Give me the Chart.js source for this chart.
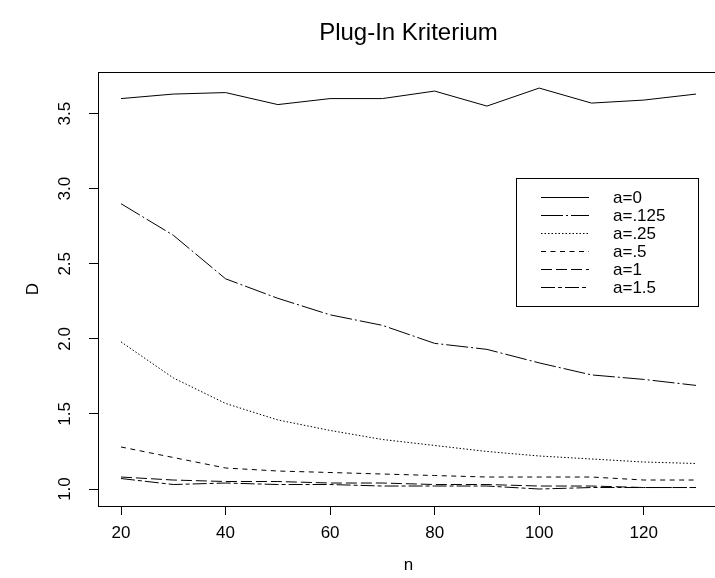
<!DOCTYPE html>
<html>
<head>
<meta charset="utf-8">
<script src="https://cdn.jsdelivr.net/npm/chart.js@4.4.1/dist/chart.umd.min.js"></script>
<style>
  html, body { margin: 0; padding: 0; background: #fff; overflow: hidden; }
  #wrap { position: relative; width: 725px; height: 578px; }
</style>
</head>
<body>
<div id="wrap"><canvas id="c"></canvas></div>
<script>
// ===== Plug-In Kriterium: D vs n for several a =====
const nValues = [20, 30, 40, 50, 60, 70, 80, 90, 100, 110, 120, 130];
const xTicks = [20, 40, 60, 80, 100, 120];
const yTicks = [1.0, 1.5, 2.0, 2.5, 3.0, 3.5];
const seriesNames = ['a=0', 'a=.125', 'a=.25', 'a=.5', 'a=1', 'a=1.5'];

const dA0    = [3.60, 3.63, 3.64, 3.56, 3.60, 3.60, 3.65, 3.55, 3.67, 3.57, 3.59, 3.63];
const dA0125 = [2.90, 2.69, 2.40, 2.27, 2.16, 2.09, 1.97, 1.93, 1.84, 1.76, 1.73, 1.69];
const dA025  = [1.98, 1.74, 1.57, 1.46, 1.39, 1.33, 1.29, 1.25, 1.22, 1.20, 1.18, 1.17];
const dA05   = [1.28, 1.21, 1.14, 1.12, 1.11, 1.10, 1.09, 1.08, 1.08, 1.08, 1.06, 1.06];
const dA1    = [1.08, 1.06, 1.05, 1.05, 1.04, 1.04, 1.03, 1.03, 1.02, 1.02, 1.01, 1.01];
const dA15   = [1.07, 1.03, 1.04, 1.03, 1.03, 1.02, 1.02, 1.02, 1.00, 1.01, 1.01, 1.01];

// R line types: solid, dotdash, dotted, dashed, longdash, twodash
const dashes = [[], [22, 3, 2, 3], [1.5, 2], [5, 4.5], [11, 4], [14, 3, 4, 3]];
const allSeries = [dA0, dA0125, dA025, dA05, dA1, dA15];

const FONT = '"Liberation Sans", Arial, Helvetica, sans-serif';

const datasets = allSeries.map((vals, i) => ({
    label: seriesNames[i],
    data: vals.map((v, j) => ({ x: nValues[j], y: v })),
    borderColor: '#000',
    borderWidth: 1,
    borderDash: dashes[i],
    pointRadius: 0,
    tension: 0,
    fill: false
}));

// box, title, rotated y labels and the legend, drawn like R does
const rStyle = {
    id: 'rStyle',
    afterDraw(chart) {
        const { ctx, chartArea: a, scales } = chart;
        ctx.save();
        ctx.strokeStyle = '#000';
        ctx.lineWidth = 1;
        ctx.strokeRect(Math.round(a.left) + 0.5, Math.round(a.top) + 0.5, a.right - a.left, a.bottom - a.top);

        ctx.fillStyle = '#000';
        ctx.font = '24px ' + FONT;
        ctx.textAlign = 'center';
        ctx.textBaseline = 'middle';
        ctx.fillText('Plug-In Kriterium', (a.left + a.right) / 2, 33);

        ctx.font = '17px ' + FONT;
        yTicks.forEach(v => {
            const y = scales.y.getPixelForValue(v);
            ctx.save();
            ctx.translate(65, y);
            ctx.rotate(-Math.PI / 2);
            ctx.fillText(v.toFixed(1), 0, 0);
            ctx.restore();
        });

        // legend
        const bx = 516, by = 178, bw = 182, bh = 128;
        ctx.strokeRect(bx + 0.5, by + 0.5, bw, bh);
        ctx.textAlign = 'left';
        datasets.forEach((d, i) => {
            const y = by + 19 + i * 18;
            ctx.beginPath();
            ctx.setLineDash(d.borderDash);
            ctx.moveTo(541, Math.round(y) + 0.5);
            ctx.lineTo(589, Math.round(y) + 0.5);
            ctx.stroke();
            ctx.setLineDash([]);
            ctx.fillText(d.label, 613, y + 1);
        });
        ctx.restore();
    }
};

new Chart(document.getElementById('c').getContext('2d'), {
    type: 'line',
    data: { datasets },
    options: {
        responsive: true, maintainAspectRatio: false, animation: false,
        layout: { padding: { left: 0, right: 6, top: 72, bottom: 0 } },
        plugins: { legend: { display: false }, tooltip: { enabled: false } },
        scales: {
            x: {
                type: 'linear', min: 15.6, max: 134.4,
                afterBuildTicks: s => { s.ticks = xTicks.map(v => ({ value: v })); },
                afterFit: s => { s.height = 72; },
                grid: { drawOnChartArea: false, drawTicks: true, tickLength: 9, tickColor: '#000' },
                border: { display: false },
                ticks: { color: '#000', padding: 8, maxRotation: 0, font: { family: FONT, size: 17 }, callback: v => String(v) },
                title: { display: true, text: 'n', color: '#000', font: { family: FONT, size: 17 }, padding: { top: 0, bottom: 2 } }
            },
            y: {
                type: 'linear', min: 0.887, max: 3.777,
                afterBuildTicks: s => { s.ticks = yTicks.map(v => ({ value: v })); },
                afterFit: s => { s.width = 98; },
                grid: { drawOnChartArea: false, drawTicks: true, tickLength: 9, tickColor: '#000' },
                border: { display: false },
                ticks: { display: false },
                title: { display: true, text: 'D', color: '#000', font: { family: FONT, size: 17 }, padding: { top: 23, bottom: 0 } }
            }
        }
    },
    plugins: [rStyle]
});
</script>
</body>
</html>
